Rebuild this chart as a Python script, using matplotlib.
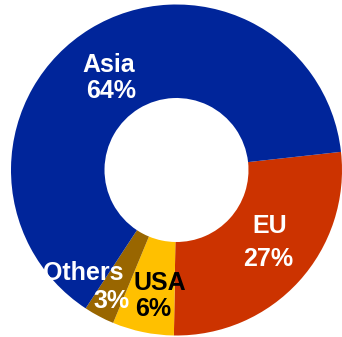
import matplotlib
matplotlib.use('Agg')
import matplotlib.pyplot as plt

regions = ["EU", "USA", "Others", "Asia"]
shares = [27, 6, 3, 64]
colors = ["#CC3300", "#FFC000", "#996600", "#00259A"]
label_colors = ["white", "black", "white", "white"]

W, H = 342, 337


def main():
    fig = plt.figure(figsize=(W / 100, H / 100), dpi=100)
    ax = fig.add_axes([0, 0, 1, 1])

    cx, cy = 176.5, H - 170
    r_out, r_in = 165.5, 72

    ax.pie(
        shares,
        colors=colors,
        startangle=6.3,
        counterclock=False,
        center=(cx, cy),
        radius=r_out,
        wedgeprops=dict(width=r_out - r_in, linewidth=0),
    )
    ax.set_xlim(0, W)
    ax.set_ylim(0, H)
    ax.set_aspect('auto')
    ax.axis('off')

    # label lines (name, percentage): x centre and baseline, pixels from top-left
    spots = {
        "Asia": [(109, 71.5), (111, 98)],
        "EU": [(269.5, 233), (268, 265.5)],
        "Others": [(83, 280), (112, 308)],
        "USA": [(160, 290.5), (153.5, 316)],
    }
    font = dict(family=["Liberation Sans", "DejaVu Sans"], fontweight="bold", fontsize=18)
    for name, val, tc in zip(regions, shares, label_colors):
        (x1, y1), (x2, y2) = spots[name]
        ax.text(x1, H - y1, name, color=tc, ha="center", va="baseline", **font)
        ax.text(x2, H - y2, f"{val}%", color=tc, ha="center", va="baseline", **font)

    fig.savefig("out.png", dpi=100)


if __name__ == "__main__":
    main()
